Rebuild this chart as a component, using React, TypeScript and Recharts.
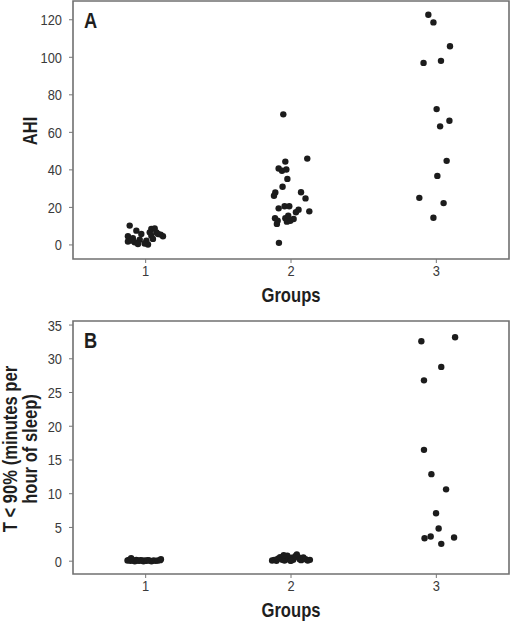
import { ScatterChart, Scatter, XAxis, YAxis, ReferenceArea } from 'recharts';

// no narrow font installed, so glyphs are squeezed horizontally
const FONT = "'Liberation Sans', Arial, sans-serif";
const SQUEEZE = 0.83;

const groupTicks = [1, 2, 3];
const ahiTicks = [0, 20, 40, 60, 80, 100, 120];
const t90Ticks = [0, 5, 10, 15, 20, 25, 30, 35];

// [jittered group position, value]
const ahiGroup1 = [
  [0.89, 10.3], [0.936, 7.6], [1.039, 8.5], [1.062, 8.8], [0.878, 4.6], [0.912, 3.6],
  [0.959, 2.8], [1.005, 2.3], [1.016, 0.2], [0.993, 0.8], [1.074, 6.7], [1.119, 4.6],
  [1.085, 5.8], [1.039, 4.9], [0.878, 1.8], [0.924, 1.4], [0.97, 5.8], [1.028, 6.7],
  [1.05, 3.2], [0.901, 2.3], [0.947, 0.5], [1.103, 5.5],
];
const ahiGroup2 = [
  [1.947, 69.6], [2.112, 46.0], [1.961, 44.4], [1.915, 40.7], [1.938, 39.5], [1.968, 40.2],
  [1.975, 35.2], [1.942, 31.0], [1.892, 28.0], [1.883, 26.2], [2.069, 28.1], [2.1, 24.8],
  [1.915, 19.5], [1.956, 20.6], [1.988, 20.6], [2.052, 18.8], [2.126, 17.9], [2.034, 17.4],
  [1.89, 14.2], [1.908, 12.9], [1.903, 11.2], [1.961, 14.2], [1.972, 12.4], [1.995, 12.9],
  [2.018, 13.8], [1.981, 15.6], [1.917, 1.1],
];
const ahiGroup3 = [
  [2.945, 122.7], [2.98, 118.6], [3.094, 105.9], [2.912, 97.0], [3.032, 98.1], [3.002, 72.4],
  [3.09, 66.2], [3.026, 63.2], [3.071, 44.8], [3.007, 36.8], [2.883, 25.1], [3.05, 22.3],
  [2.98, 14.5],
];

const t90Group1 = [
  [0.875, 0.1], [0.885, 0.2], [0.895, 0.05], [0.905, 0.15], [0.915, 0.1], [0.925, 0.0],
  [0.935, 0.2], [0.945, 0.1], [0.955, 0.05], [0.965, 0.15], [0.975, 0.1], [0.985, 0.0],
  [0.995, 0.1], [1.005, 0.05], [1.015, 0.15], [1.025, 0.1], [1.04, 0.0], [1.055, 0.1],
  [1.07, 0.05], [1.085, 0.1], [1.1, 0.15], [1.105, 0.3], [0.9, 0.45],
];
const t90Group2 = [
  [1.87, 0.1], [1.885, 0.2], [1.9, 0.05], [1.91, 0.35], [1.925, 0.6], [1.94, 0.2],
  [1.955, 0.1], [1.965, 0.45], [1.975, 0.8], [1.985, 0.3], [1.995, 0.1], [2.005, 0.5],
  [2.015, 0.2], [2.03, 0.75], [2.04, 1.0], [2.05, 0.6], [2.06, 0.3], [2.07, 0.15],
  [2.085, 0.55], [2.1, 0.3], [2.115, 0.1], [2.13, 0.2], [1.95, 0.9], [2.0, 0.05],
];
const t90Group3 = [
  [3.129, 33.2], [2.897, 32.6], [3.034, 28.8], [2.915, 26.8], [2.915, 16.5], [2.966, 12.9],
  [3.067, 10.65], [2.998, 7.1], [3.016, 4.84], [2.919, 3.4], [2.961, 3.65], [3.122, 3.5],
  [3.034, 2.57],
];

const toPoints = (rows: number[][]) => rows.map(([x, y]) => ({ x, y }));

const dot = (props: any) => <circle cx={props.cx} cy={props.cy} r={3.2} fill="#1c1c1c" />;

const tickStyle = { fontFamily: FONT, fontSize: 15.5, fill: '#3a3a3a' };
const titleStyle = { fontFamily: FONT, fontSize: 20, fontWeight: 700, fill: '#1e1e1e' };

// squeezed text, optionally rotated around its anchor
function Narrow({ x, y, anchor, rotate = 0, style, children }: any) {
  return (
    <text
      transform={`translate(${x}, ${y}) rotate(${rotate}) scale(${SQUEEZE}, 1)`}
      textAnchor={anchor}
      style={style}
    >
      {children}
    </text>
  );
}

const xTick = (p: any) => (
  <Narrow x={p.x} y={p.y + 11} anchor="middle" style={tickStyle}>
    {p.payload.value}
  </Narrow>
);

const yTick = (p: any) => (
  <Narrow x={p.x} y={p.y + 5.5} anchor="end" style={tickStyle}>
    {p.payload.value}
  </Narrow>
);

interface PanelProps {
  letter: string;
  height: number;
  top: number;
  plotBottom: number;
  domain: [number, number];
  ticks: number[];
  groups: number[][][];
  yTitle: string[];
  yTitleCenter: number;
}

function Panel({ letter, height, top, plotBottom, domain, ticks, groups, yTitle, yTitleCenter }: PanelProps) {
  return (
    <ScatterChart width={511} height={height} margin={{ top, right: 2, bottom: 0, left: 0 }}>
      <XAxis
        type="number"
        dataKey="x"
        domain={[0.5, 3.5]}
        ticks={groupTicks}
        allowDataOverflow
        height={height - plotBottom}
        axisLine={false}
        tickLine={{ stroke: '#777' }}
        tickSize={4}
        tickMargin={2}
        tick={xTick}
        label={{
          content: (p: any) => (
            <Narrow x={291} y={p.viewBox.y + 43} anchor="middle" style={{ ...titleStyle, fontSize: 20 }}>
              Groups
            </Narrow>
          ),
        }}
      />
      <YAxis
        type="number"
        dataKey="y"
        domain={domain}
        ticks={ticks}
        allowDataOverflow
        width={73}
        axisLine={false}
        tickLine={{ stroke: '#777' }}
        tickSize={4}
        tickMargin={7}
        tick={yTick}
      />
      <ReferenceArea
        x1={0.5}
        x2={3.5}
        y1={domain[0]}
        y2={domain[1]}
        fill="none"
        stroke="#707070"
        strokeWidth={1.6}
        ifOverflow="visible"
        label={{
          content: (p: any) => (
            <g>
              <Narrow x={p.viewBox.x + 11} y={p.viewBox.y + 27} anchor="start" style={{ ...titleStyle, fontSize: 22 }}>
                {letter}
              </Narrow>
              {yTitle.map((line, i) => (
                <Narrow
                  key={line}
                  x={37 - (yTitle.length - 1 - i) * 20}
                  y={yTitleCenter}
                  anchor="middle"
                  rotate={-90}
                  style={titleStyle}
                >
                  {line}
                </Narrow>
              ))}
            </g>
          ),
        }}
      />
      {groups.map((g, i) => (
        <Scatter key={i} data={toPoints(g)} shape={dot} isAnimationActive={false} />
      ))}
    </ScatterChart>
  );
}

export default function App() {
  return (
    <div style={{ position: 'absolute', left: 0, top: 0, width: 511, height: 626, background: '#fff' }}>
      <Panel
        letter="A"
        height={310}
        top={1}
        plotBottom={259}
        domain={[-7.5, 130]}
        ticks={ahiTicks}
        groups={[ahiGroup1, ahiGroup2, ahiGroup3]}
        yTitle={['AHI']}
        yTitleCenter={131}
      />
      <Panel
        letter="B"
        height={316}
        top={11}
        plotBottom={264}
        domain={[-1.9, 35.6]}
        ticks={t90Ticks}
        groups={[t90Group1, t90Group2, t90Group3]}
        yTitle={['T < 90% (minutes per', 'hour of sleep)']}
        yTitleCenter={139}
      />
    </div>
  );
}
